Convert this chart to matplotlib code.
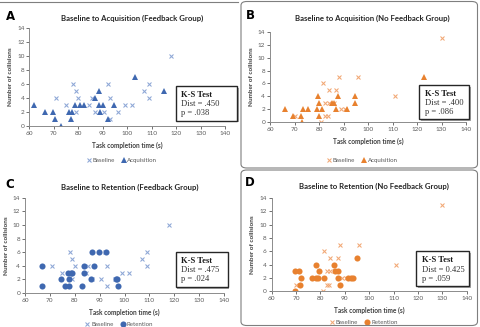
import matplotlib
matplotlib.use("Agg")
import matplotlib.pyplot as plt
from matplotlib.patches import Rectangle, FancyBboxPatch

plt.rcParams['font.family'] = ['Lato', 'DejaVu Sans']

# ---------------- data ----------------
# Feedback group baseline (panels A and C)
fb_base_time = [118, 71, 75, 78, 79, 80, 79, 84.5, 85.5, 87, 92, 93, 90.5, 93, 96, 99, 102, 107, 109, 109]
fb_base_coll = [10, 4, 3, 6, 5, 4, 2, 3, 4, 2, 6, 4, 2, 1, 2, 3, 3, 5, 6, 4]
# Feedback group acquisition (panel A)
fb_acq_time = [62, 66.5, 69.5, 70.5, 73, 76, 77, 77.5, 78.5, 80.5, 82.5, 87, 88.5, 88.5, 90, 89, 92, 94.5, 103, 115]
fb_acq_coll = [3, 2, 2, 1, 0, 2, 1, 2, 3, 3, 3, 4, 5, 3, 3, 2, 1, 3, 7, 5]
# Feedback group retention (panel C)
fb_ret_time = [66.7, 67, 74.5, 76, 77.3, 77.6, 77.7, 78.3, 78.8, 83, 83.6, 83.6, 86.8, 86.5, 87.7, 89.6, 92.5, 96.6, 97, 97.4]
fb_ret_coll = [4, 1, 2, 1, 3, 2, 1, 3, 3, 1, 4, 3, 6, 2, 4, 6, 6, 2, 2, 1]

# No-feedback group baseline (panels B and D)
nf_base_time = [130, 81.5, 88, 96, 84, 87, 111, 82.5, 84, 86, 89, 90.5, 70, 82.5, 83.5, 81]
nf_base_coll = [13, 6, 7, 7, 5, 5, 4, 3, 3, 3, 2, 2, 1, 1, 1, 0]
# No-feedback group acquisition (panel B)
nf_acq_time = [66, 69.2, 72.6, 73, 73.5, 75.5, 79, 79.7, 80, 80, 81.4, 85.4, 86.2, 87.8, 87, 91.4, 94.5, 94.5, 122.7]
nf_acq_coll = [2, 1, 1, 0, 2, 2, 2, 4, 3, 1, 2, 3, 3, 4, 2, 2, 4, 3, 7]
# No-feedback group retention (panel D)
nf_ret_time = [69.5, 69.5, 71, 71.5, 72, 76.5, 78, 78, 79, 79.5, 81.5, 85.5, 86, 87, 87, 88, 91.5, 92.5, 93.5, 95]
nf_ret_coll = [0, 3, 3, 1, 2, 2, 4, 2, 2, 3, 2, 4, 3, 3, 2, 1, 2, 2, 2, 5]

titles = ["Baseline to Acquisition (Feedback Group)",
          "Baseline to Acquisition (No Feedback Group)",
          "Baseline to Retention (Feedback Group)",
          "Baseline to Retention (No Feedback Group)"]
letters = ["A", "B", "C", "D"]
second_names = ["Acquisition", "Acquisition", "Retention", "Retention"]
ks_dist = ["Dist = .450", "Dist = .400", "Dist = .475", "Dist = 0.425"]
ks_p = ["p = .038", "p = .086", "p = .024", "p = .059"]
x_ticks = [60, 70, 80, 90, 100, 110, 120, 130, 140]
y_ticks = [0, 2, 4, 6, 8, 10, 12, 14]

BLUE_X = '#8DA6D6'
BLUE = '#3F68B0'
ORANGE_X = '#F2A774'
ORANGE = '#E8812F'

W, H = 480, 327
fig = plt.figure(figsize=(W / 100, H / 100), dpi=100)

def fx(px):
    return px / W

def fy(py):
    return 1 - py / H

# axes rectangles in pixel coords: left, top, right, bottom
rects = [(29.3, 28.3, 225.3, 126.0),
         (270.0, 31.7, 466.0, 122.3),
         (25.0, 197.7, 224.0, 293.0),
         (271.7, 198.0, 466.7, 291.3)]
title_y = [18.3, 18.3, 187.3, 186.3]
xlabel_y = [145.7, 141.7, 312.0, 310.0]
legend_y = [160.0, 160.0, 324.5, 322.3]
letter_pos = [(10, 16.5), (250, 15.5), (10, 184), (249.5, 182.5)]
ks_boxes = [(175.7, 86.0, 237.0, 120.7),
            (419.3, 85.0, 469.3, 119.0),
            (175.7, 252.3, 227.7, 287.0),
            (416.0, 251.3, 469.3, 286.3)]

series = [
    (fb_base_time, fb_base_coll, fb_acq_time, fb_acq_coll, BLUE_X, BLUE, '^'),
    (nf_base_time, nf_base_coll, nf_acq_time, nf_acq_coll, ORANGE_X, ORANGE, '^'),
    (fb_base_time, fb_base_coll, fb_ret_time, fb_ret_coll, BLUE_X, BLUE, 'o'),
    (nf_base_time, nf_base_coll, nf_ret_time, nf_ret_coll, ORANGE_X, ORANGE, 'o'),
]

# panel borders (right-hand panels have rounded frames)
for (x0, y0, x1, y1) in [(241, 1.5, 477.5, 168), (241, 170, 477.5, 325.5)]:
    fig.patches.append(FancyBboxPatch((fx(x0), fy(y1)), fx(x1 - x0), (y1 - y0) / H,
                                      boxstyle="round,pad=0,rounding_size=0.012",
                                      transform=fig.transFigure, fill=False,
                                      edgecolor='#7f7f7f', linewidth=0.8))
fig.add_artist(plt.Line2D([0, fx(238)], [fy(1.5), fy(1.5)], transform=fig.transFigure,
                          color='#7f7f7f', linewidth=0.8))

for i in range(4):
    l, t, r, b = rects[i]
    ax = fig.add_axes([fx(l), fy(b), fx(r - l), (b - t) / H])
    bt, bc, st, sc, cx, cs, mk = series[i]
    ax.plot(bt, bc, linestyle='none', marker='x', markersize=3.4, markeredgewidth=0.75,
            color=cx, label='Baseline')
    ms = 4.0 if mk == '^' else 4.4
    ax.plot(st, sc, linestyle='none', marker=mk, markersize=ms, markeredgewidth=0,
            color=cs, label=second_names[i])
    ax.set_xlim(60, 140)
    ax.set_ylim(0, 14)
    ax.set_xticks(x_ticks)
    ax.set_yticks(y_ticks)
    ax.tick_params(labelsize=4.6, colors='#595959', length=2, width=0.6, pad=1.5)
    for s in ['top', 'right']:
        ax.spines[s].set_visible(False)
    for s in ['left', 'bottom']:
        ax.spines[s].set_color('#8c8c8c')
        ax.spines[s].set_linewidth(0.7)
    ax.set_ylabel('Number of collisions', fontsize=4.6, fontweight='bold',
                  color='#404040', labelpad=3)
    ax.set_xlabel('')
    cx_center = fx((l + r) / 2)
    fig.text(cx_center, fy(xlabel_y[i]), 'Task completion time (s)', fontsize=4.7,
             fontweight='bold', color='#404040', ha='center', va='center')
    fig.text(cx_center + 0.01, fy(title_y[i]), titles[i], fontsize=5.6, fontweight='bold',
             color='#262626', ha='center', va='center')
    lx, ly = letter_pos[i]
    fig.text(fx(lx), fy(ly), letters[i], fontsize=8.5, fontweight='bold',
             family='DejaVu Sans', color='black', ha='center', va='center')
    leg = ax.legend(loc='center', bbox_to_anchor=(0.47, (b - legend_y[i]) / (b - t)),
                    ncol=2, frameon=False, fontsize=4.4, handletextpad=0.1,
                    columnspacing=1.0, handlelength=1.0, borderaxespad=0)
    for txt in leg.get_texts():
        txt.set_color('#595959')

    # K-S test box with shadow
    x0, y0, x1, y1 = ks_boxes[i]
    fig.patches.append(Rectangle((fx(x0 + 1.5), fy(y1 + 1.5)), fx(x1 - x0), (y1 - y0) / H,
                                 transform=fig.transFigure, facecolor='#a6a6a6',
                                 edgecolor='none', zorder=5))
    fig.patches.append(Rectangle((fx(x0), fy(y1)), fx(x1 - x0), (y1 - y0) / H,
                                 transform=fig.transFigure, facecolor='white',
                                 edgecolor='#262626', linewidth=1.0, zorder=6))
    tx = fx(x0 + 5.5)
    h = y1 - y0
    fig.text(tx, fy(y0 + h * 0.26), 'K-S Test', fontsize=6.1, fontweight='bold',
             family='Liberation Serif', color='#1a1a1a', va='center', zorder=7)
    fig.text(tx, fy(y0 + h * 0.52), ks_dist[i], fontsize=6.1,
             family='Liberation Serif', color='#333333', va='center', zorder=7)
    fig.text(tx, fy(y0 + h * 0.78), ks_p[i], fontsize=6.1,
             family='Liberation Serif', color='#333333', va='center', zorder=7)

fig.savefig('out.png', dpi=100)
